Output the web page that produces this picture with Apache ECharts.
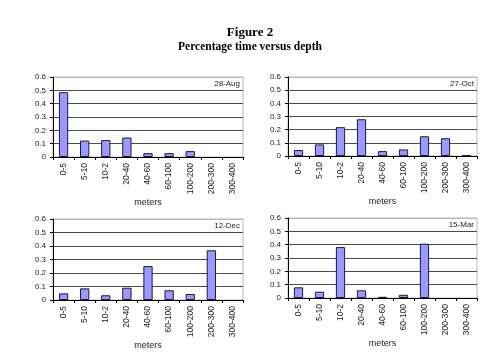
<!DOCTYPE html>
<html><head><meta charset="utf-8">
<script src="https://cdn.jsdelivr.net/npm/echarts@6/dist/echarts.min.js"></script>
<style>html,body{margin:0;padding:0;background:#fff}#c{width:500px;height:357px}</style>
</head><body><div id="c"></div>
<script>
const categories = ["0-5","5-10","10-2","20-40","40-60","60-100","100-200","200-300","300-400"];
const panelNames = ["28-Aug","27-Oct","12-Dec","15-Mar"];
const aug28 = [0.486,0.123,0.127,0.146,0.029,0.029,0.044,0,0];
const oct27 = [0.045,0.088,0.219,0.279,0.037,0.05,0.15,0.135,0.004];
const dec12 = [0.049,0.086,0.035,0.091,0.251,0.072,0.044,0.368,0];
const mar15 = [0.08,0.047,0.382,0.058,0.009,0.024,0.407,0,0];
const yTicks = [0,0.1,0.2,0.3,0.4,0.5,0.6];
const seriesData = [aug28, oct27, dec12, mar15];

const grids = [
  {left:53, top:77, width:190, height:80},
  {left:288, top:77, width:189, height:79},
  {left:53, top:219, width:190, height:81},
  {left:288, top:218, width:189, height:80}
];
const font = 'Liberation Sans, Arial, sans-serif';
const serif = 'Liberation Serif, Times New Roman, serif';
const chart = echarts.init(document.getElementById('c'), null, {renderer:'canvas'});
const gridColors = yTicks.map((t,i)=> i===yTicks.length-1 ? '#b8b8b8' : '#4a4a4a');
const barStyle = {color:'#9999ff', borderColor:'#1a1a3a', borderWidth:1};

const option = {
  animation:false,
  backgroundColor:'#fff',
  title:[
    {text:'Figure 2', left:'center', top:21, textStyle:{fontFamily:serif, fontWeight:'bold', fontSize:13, color:'#000'}},
    {text:'Percentage time versus depth', left:'center', top:36, textStyle:{fontFamily:serif, fontWeight:'bold', fontSize:11.5, color:'#000'}}
  ],
  grid: grids.map(g=>Object.assign({show:true, borderColor:'#b8b8b8', borderWidth:1, backgroundColor:'transparent'}, g)),
  legend: grids.map((g,i)=>({
    data:[panelNames[i]], selectedMode:false, icon:'none', itemWidth:0, itemHeight:0, itemGap:0, padding:0,
    right: 500 - (g.left + g.width) + 3, top: g.top + 3,
    textStyle:{fontFamily:font, fontSize:8, color:'#222', padding:[0,0,0,0]}
  })),
  xAxis: grids.map((g,i)=>({
    type:'category', gridIndex:i, data:categories,
    name:'meters', nameLocation:'middle', nameGap:39,
    nameTextStyle:{fontFamily:font, fontSize:9, color:'#222'},
    axisLine:{lineStyle:{color:'#000', width:1}},
    axisTick:{show:true, length:3, lineStyle:{color:'#000'}},
    axisLabel:{rotate:90, fontFamily:font, fontSize:8.5, color:'#222', margin:6, interval:0}
  })),
  yAxis: grids.map((g,i)=>({
    type:'value', gridIndex:i, min:0, max:0.6, interval:0.1,
    axisLine:{show:true, lineStyle:{color:'#000', width:1}},
    axisTick:{show:true, length:3, lineStyle:{color:'#000'}},
    axisLabel:{fontFamily:font, fontSize:8, color:'#222', margin:7,
      formatter: v => String(Math.round(v*10)/10)},
    splitLine:{show:true, lineStyle:{color:gridColors, width:1}}
  })),
  series: seriesData.map((d,i)=>({
    type:'bar', name:panelNames[i], xAxisIndex:i, yAxisIndex:i,
    data: d.map(v => v === 0 ? {value:v, itemStyle:{borderWidth:0}} : v),
    barWidth:'44%',
    itemStyle:barStyle
  }))
};
chart.setOption(option);
</script></body></html>
